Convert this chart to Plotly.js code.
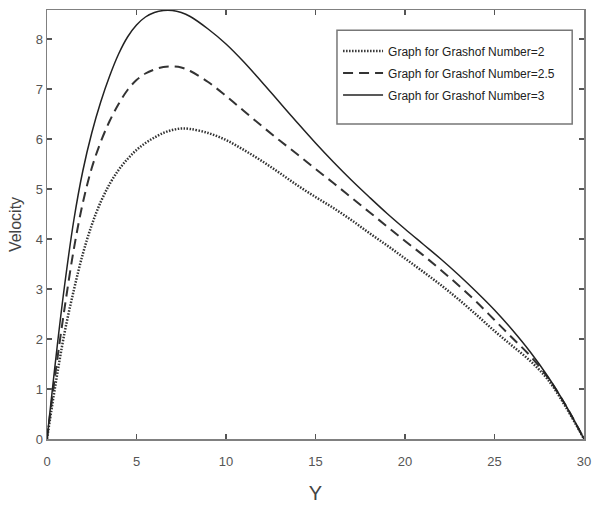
<!DOCTYPE html>
<html>
<head>
<meta charset="utf-8">
<script src="https://cdn.plot.ly/plotly-3.0.1.min.js"></script>
<style>html,body{margin:0;padding:0;background:#fff;}#chart{width:593px;height:512px;}</style>
</head>
<body>
<div id="chart"></div>
<script>
// Position Y (x-axis)
const yPos = [0, 0.3, 0.6, 1, 1.5, 2, 2.5, 3, 3.5, 4, 4.5, 5, 5.5, 6, 6.5, 7, 7.5, 8, 9, 10,
              11, 12, 13, 14, 15, 16, 17, 18, 19, 20, 21, 22, 23, 24, 25, 26, 27, 28, 29, 30];

// Velocity for Grashof Number = 2 (dotted)
const velGr2 = [0, 0.7, 1.36, 2.16, 2.98, 3.7, 4.28, 4.74, 5.1, 5.38, 5.6, 5.78, 5.92, 6.03, 6.12, 6.18, 6.21, 6.2, 6.12, 5.98,
                5.78, 5.56, 5.32, 5.07, 4.84, 4.62, 4.38, 4.12, 3.87, 3.61, 3.35, 3.08, 2.79, 2.48, 2.16, 1.86, 1.56, 1.18, 0.63, 0];

// Velocity for Grashof Number = 2.5 (dashed)
const velGr25 = [0, 0.85, 1.66, 2.66, 3.8, 4.72, 5.42, 5.94, 6.36, 6.7, 6.98, 7.18, 7.31, 7.39, 7.44, 7.45, 7.43, 7.36, 7.14, 6.86,
                 6.56, 6.26, 5.97, 5.69, 5.4, 5.12, 4.83, 4.54, 4.25, 3.96, 3.68, 3.38, 3.07, 2.74, 2.38, 2.02, 1.66, 1.22, 0.66, 0];

// Velocity for Grashof Number = 3 (solid)
const velGr3 = [0, 0.99, 1.95, 3.12, 4.38, 5.36, 6.12, 6.74, 7.26, 7.7, 8.04, 8.28, 8.44, 8.53, 8.57, 8.57, 8.53, 8.45, 8.2, 7.9,
                7.54, 7.14, 6.73, 6.32, 5.92, 5.54, 5.18, 4.84, 4.51, 4.2, 3.9, 3.6, 3.28, 2.94, 2.58, 2.18, 1.74, 1.24, 0.66, 0];

const legendNames = ["Graph for Grashof Number=2", "Graph for Grashof Number=2.5", "Graph for Grashof Number=3"];
const xTicks = [0, 5, 10, 15, 20, 25, 30];
const yTicks = [0, 1, 2, 3, 4, 5, 6, 7, 8];

const traces = [
  {x: yPos, y: velGr2, name: legendNames[0], mode: 'lines', legendgroup: 'a',
   line: {color: '#333', width: 2.5, dash: '1.5px,1.5px', shape: 'spline', smoothing: 1}},
  {x: yPos, y: velGr25, name: legendNames[1], mode: 'lines', legendgroup: 'b',
   line: {color: '#333', width: 2, dash: '10px,6px', shape: 'spline', smoothing: 1}},
  {x: yPos, y: velGr3, name: legendNames[2], mode: 'lines', legendgroup: 'c',
   line: {color: '#222', width: 1.5, shape: 'spline', smoothing: 1}}
];

const axisCommon = {
  showgrid: false, zeroline: false, showline: true, mirror: 'allticks',
  linecolor: '#808080', linewidth: 1.5, ticks: 'inside', ticklen: 5,
  tickcolor: '#555', tickwidth: 1.2,
  tickfont: {family: 'Liberation Sans, Arial, sans-serif', size: 13, color: '#555'}
};

const layout = {
  width: 593, height: 512,
  margin: {l: 47, r: 9, t: 10, b: 73},
  paper_bgcolor: '#fff', plot_bgcolor: '#fff',
  showlegend: true,
  xaxis: Object.assign({}, axisCommon, {
    range: [0, 30], tickvals: xTicks, ticktext: xTicks.map(String), ticklabelstandoff: 10,
    title: {text: 'Y', font: {family: 'Liberation Sans, Arial, sans-serif', size: 20, color: '#444'}, standoff: 18}
  }),
  yaxis: Object.assign({}, axisCommon, {
    range: [0, 8.58], tickvals: yTicks, ticktext: yTicks.map(String),
    title: {text: 'Velocity', font: {family: 'Liberation Sans, Arial, sans-serif', size: 16, color: '#444'}, standoff: 10}
  }),
  legend: {
    x: 0.542, y: 0.938, xanchor: 'left', yanchor: 'top',
    bgcolor: 'rgba(0,0,0,0)', borderwidth: 0,
    font: {family: 'Liberation Sans, Arial, sans-serif', size: 12, color: '#222'},
    itemwidth: 40, tracegroupgap: 3
  },
  shapes: [{
    type: 'rect', xref: 'paper', yref: 'paper',
    x0: 0.540, x1: 0.978, y0: 0.734, y1: 0.953,
    line: {color: '#777', width: 1.5}, fillcolor: '#fff', layer: 'below'
  }]
};

Plotly.newPlot('chart', traces, layout, {displayModeBar: false, staticPlot: true});
</script>
</body>
</html>
